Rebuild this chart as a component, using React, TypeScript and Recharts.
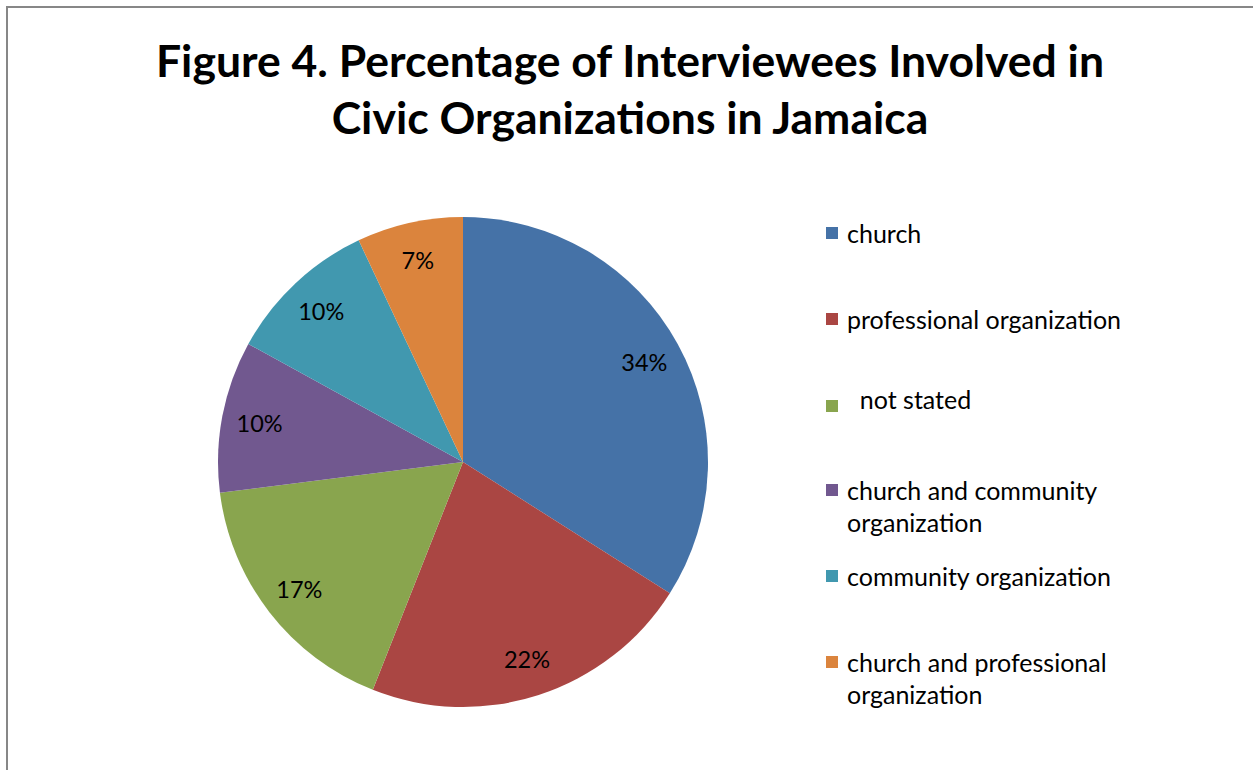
import React from "react";
import { PieChart, Pie, Cell, Legend } from "recharts";

const categories = [
  "church",
  "professional organization",
  "not stated",
  "church and community organization",
  "community organization",
  "church and professional organization",
];
const values = [34, 22, 17, 10, 10, 7];
const colors = ["#4572A7", "#AA4643", "#89A54E", "#71588F", "#4198AF", "#DB843D"];
const legendLines = [
  ["church"],
  ["professional organization"],
  ["  not stated"],
  ["church and community", "organization"],
  ["community organization"],
  ["church and professional", "organization"],
];
const legendTops = [217, 303, 383, 474, 560, 646];

const data = categories.map((name, i) => ({ name, value: values[i] }));

const FONT = "Lato, 'Open Sans', sans-serif";
const RAD = Math.PI / 180;

const renderLabel = (props: any) => {
  const { cx, cy, midAngle, outerRadius, value } = props;
  const r = outerRadius * 0.845;
  const x = cx + r * Math.cos(-midAngle * RAD);
  const y = cy + r * Math.sin(-midAngle * RAD);
  return (
    <text x={x} y={y} fill="#000" textAnchor="middle" dominantBaseline="central" fontFamily={FONT} fontSize={23.5}>
      {`${value}%`}
    </text>
  );
};

const renderLegend = () => (
  <div style={{ position: "relative", width: 420, height: 520, fontFamily: FONT, fontSize: 25, color: "#000" }}>
    {legendLines.map((lines, i) => (
      <div key={i} style={{ position: "absolute", left: 0, top: legendTops[i] - 217, lineHeight: "32px" }}>
        <span
          style={{
            position: "absolute",
            left: 0,
            top: i === 2 ? 17 : 10,
            width: 12,
            height: 12,
            background: colors[i],
          }}
        />
        <div style={{ marginLeft: 21, whiteSpace: "pre" }}>
          {lines.map((l, j) => (
            <div key={j}>{l}</div>
          ))}
        </div>
      </div>
    ))}
  </div>
);

export default function App() {
  return (
    <div style={{ position: "fixed", left: 0, top: 0, width: 1253, height: 770, overflow: "hidden", background: "#fff" }}>
      <div
        style={{
          position: "absolute",
          left: 6,
          top: 6,
          width: 1400,
          height: 900,
          border: "2px solid #878787",
          boxSizing: "border-box",
        }}
      />
      <div
        style={{
          position: "absolute",
          left: 0,
          top: 31,
          width: 1260,
          textAlign: "center",
          fontFamily: FONT,
          fontWeight: 700,
          fontSize: 44.5,
          lineHeight: "57px",
          color: "#000",
        }}
      >
        Figure 4. Percentage of Interviewees Involved in
        <br />
        Civic Organizations in Jamaica
      </div>
      <div style={{ position: "absolute", left: 0, top: 0 }}>
        <PieChart width={1253} height={770} margin={{ top: 0, right: 0, bottom: 0, left: 0 }}>
          <Pie
            data={data}
            dataKey="value"
            nameKey="name"
            cx={463}
            cy={462}
            outerRadius={245}
            startAngle={90}
            endAngle={-270}
            stroke="none"
            label={renderLabel}
            labelLine={false}
            isAnimationActive={false}
          >
            {data.map((d, i) => (
              <Cell key={d.name} fill={colors[i]} />
            ))}
          </Pie>
          <Legend
            content={renderLegend}
            wrapperStyle={{ position: "absolute", left: 826, top: 217, width: 420, height: 520 }}
          />
        </PieChart>
      </div>
    </div>
  );
}
